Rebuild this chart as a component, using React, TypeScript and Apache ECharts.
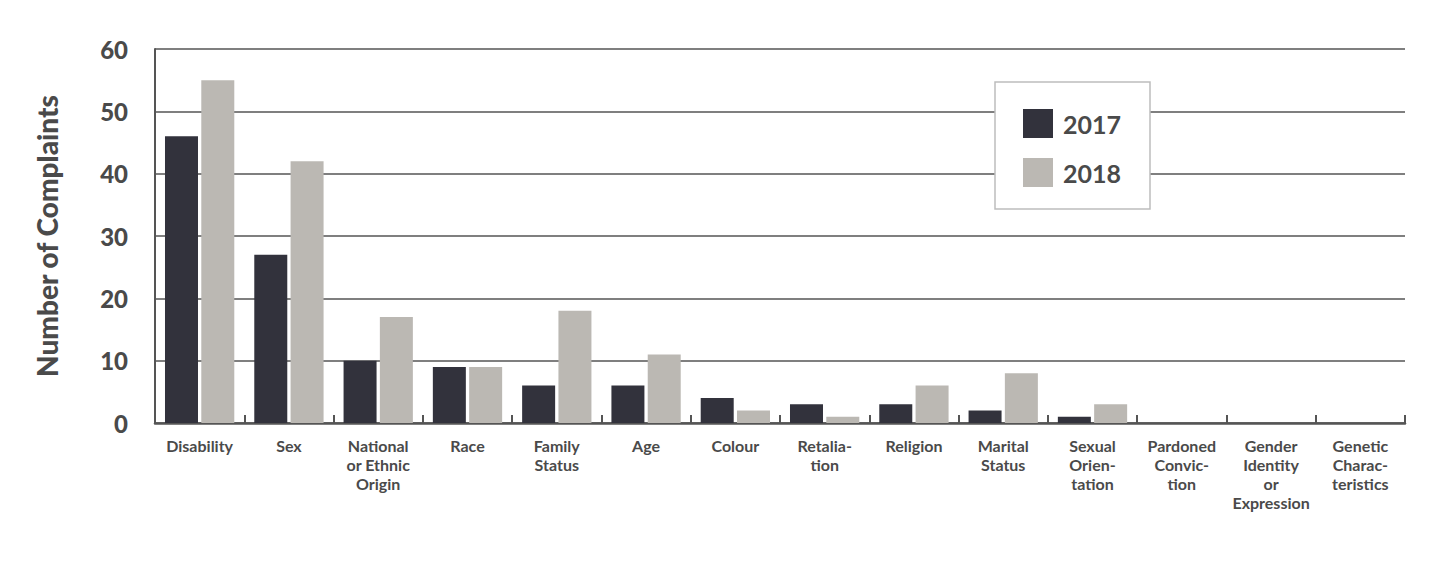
import React, { useEffect, useRef } from "react";
import * as echarts from "echarts";

const categories = [
  "Disability",
  "Sex",
  "National\nor Ethnic\nOrigin",
  "Race",
  "Family\nStatus",
  "Age",
  "Colour",
  "Retalia-\ntion",
  "Religion",
  "Marital\nStatus",
  "Sexual\nOrien-\ntation",
  "Pardoned\nConvic-\ntion",
  "Gender\nIdentity\nor\nExpression",
  "Genetic\nCharac-\nteristics",
];
const values2017 = [46, 27, 10, 9, 6, 6, 4, 3, 3, 2, 1, 0, 0, 0];
const values2018 = [55, 42, 17, 9, 18, 11, 2, 1, 6, 8, 3, 0, 0, 0];
const yTicks = [0, 10, 20, 30, 40, 50, 60];

const TEXT = "#4a4a4a";
const LINE = "#555555";
const FONT = "Lato, 'Open Sans', sans-serif";

export default function App() {
  const ref = useRef<HTMLDivElement>(null);
  useEffect(() => {
    if (!ref.current) return;
    const chart = echarts.init(ref.current, null, { renderer: "svg" });
    chart.setOption({
      animation: false,
      backgroundColor: "#ffffff",
      textStyle: { fontFamily: FONT },
      grid: { left: 155, right: 26, top: 49, bottom: 138, containLabel: false },
      legend: {
        data: ["2017", "2018"],
        orient: "vertical",
        left: 995,
        top: 82,
        padding: [27, 29, 22, 28],
        itemWidth: 30,
        itemHeight: 29,
        itemGap: 20,
        backgroundColor: "#ffffff",
        borderColor: "#bdbdbd",
        borderWidth: 1.5,
        icon: "rect",
        textStyle: {
          fontFamily: FONT,
          fontSize: 25,
          fontWeight: "bold",
          color: TEXT,
          padding: [0, 0, 0, 5],
        },
      },
      xAxis: {
        type: "category",
        data: categories,
        axisLine: { show: true, lineStyle: { color: LINE, width: 2.5 } },
        axisTick: { show: true, inside: true, length: 8, lineStyle: { color: LINE, width: 2 } },
        axisLabel: {
          interval: 0,
          margin: 13,
          fontFamily: FONT,
          fontSize: 16,
          fontWeight: "bold",
          color: TEXT,
          lineHeight: 19,
          align: "center",
        },
      },
      yAxis: {
        type: "value",
        min: yTicks[0],
        max: yTicks[yTicks.length - 1],
        interval: 10,
        name: "Number of Complaints",
        nameLocation: "middle",
        nameGap: 94,
        nameTextStyle: {
          fontFamily: FONT,
          fontSize: 28,
          fontWeight: 900,
          color: TEXT,
        },
        axisLine: { show: true, lineStyle: { color: LINE, width: 2 } },
        axisTick: { show: false },
        axisLabel: {
          margin: 27,
          fontFamily: FONT,
          fontSize: 24,
          fontWeight: 900,
          color: TEXT,
        },
        splitLine: { show: true, lineStyle: { color: LINE, width: 1.5 } },
      },
      series: [
        {
          name: "2017",
          type: "bar",
          data: values2017,
          barWidth: 33,
          barGap: "10%",
          itemStyle: { color: "#32323c" },
        },
        {
          name: "2018",
          type: "bar",
          data: values2018,
          barWidth: 33,
          itemStyle: { color: "#bbb8b3" },
        },
      ],
    });
    return () => chart.dispose();
  }, []);
  return (
    <div
      ref={ref}
      style={{ position: "fixed", left: 0, top: 0, width: 1431, height: 561 }}
    />
  );
}
